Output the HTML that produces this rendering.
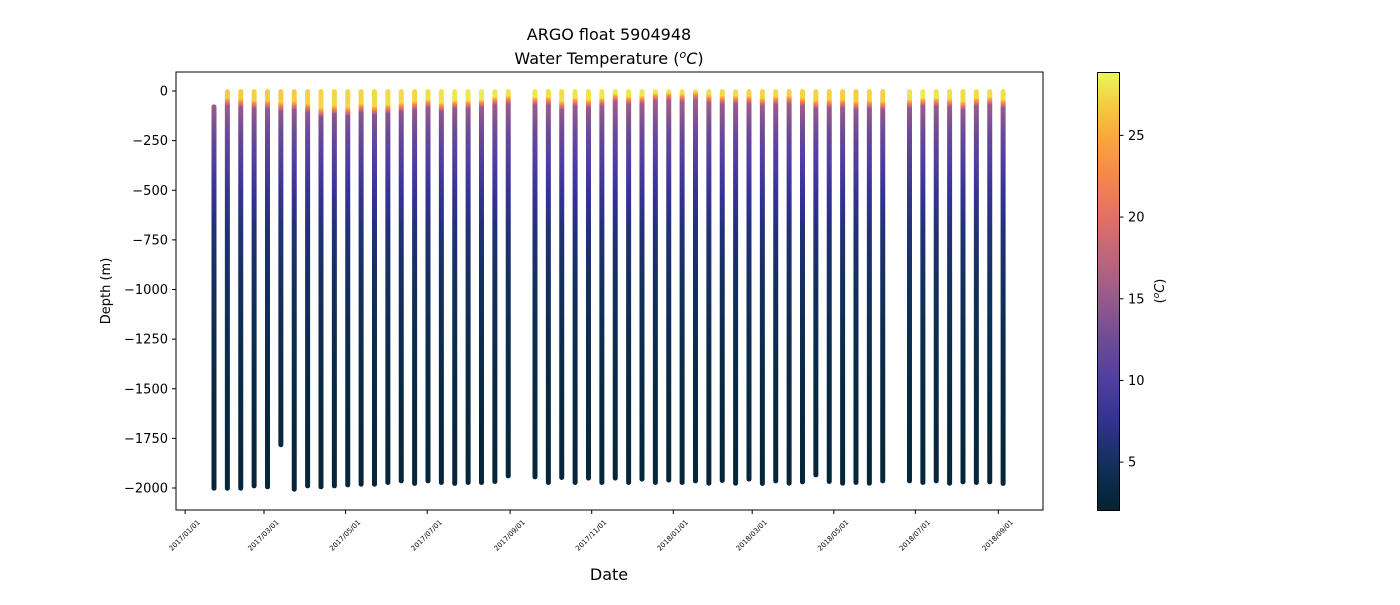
<!DOCTYPE html>
<html><head><meta charset="utf-8">
<style>
body{margin:0;background:#fff;}
svg text{font-family:"DejaVu Sans","Liberation Sans",sans-serif;fill:#000;}
</style></head>
<body>
<svg id="chart" width="1400" height="600" viewBox="0 0 1400 600" xmlns="http://www.w3.org/2000/svg">
<defs id="defs"></defs>
<rect width="1400" height="600" fill="#fff"/>
<text x="609" y="40" font-size="16" text-anchor="middle">ARGO float 5904948</text>
<text x="609" y="64" font-size="16" text-anchor="middle">Water Temperature (<tspan font-style="italic" font-size="11" dy="-6">o</tspan><tspan font-style="italic" dy="6">C</tspan>)</text>
<g id="plot"></g>
<g id="yaxis"></g>
<g id="xaxis"></g>
<rect x="176" y="72" width="867" height="438" fill="none" stroke="#000" stroke-width="1"/>
<text transform="translate(110,291) rotate(-90)" font-size="13" text-anchor="middle">Depth (m)</text>
<text x="609" y="580" font-size="16" text-anchor="middle">Date</text>
<g id="cbar"></g>
<text transform="translate(1164,291) rotate(-90)" font-size="13" text-anchor="middle">(<tspan font-style="italic" font-size="9" dy="-5">o</tspan><tspan font-style="italic" dy="5">C</tspan>)</text>
</svg>
<script>
// ---- data ----
const profileDays = [21.6,31.6,41.6,51.6,61.6,71.6,81.6,91.6,101.6,111.6,121.6,131.6,141.6,151.6,161.6,171.6,181.6,191.6,201.6,211.6,221.6,231.6,241.6,
 261.6,271.6,281.6,291.6,301.6,311.6,321.6,331.6,341.6,351.6,361.6,371.6,381.6,391.6,401.6,411.6,421.6,431.6,441.6,451.6,461.6,471.6,481.6,491.6,501.6,511.6,521.6,
 541.6,551.6,561.6,571.6,581.6,591.6,601.6,611.6];
const bottomDepth = [-2001,-2001,-2001,-1989,-1994,-1782,-2006,-1989,-1994,-1989,-1984,-1981,-1981,-1972,-1964,-1977,-1964,-1972,-1977,-1972,-1972,-1967,-1939,
 -1944,-1972,-1947,-1972,-1950,-1972,-1950,-1972,-1955,-1972,-1960,-1972,-1964,-1976,-1962,-1976,-1955,-1977,-1964,-1976,-1969,-1934,-1967,-1976,-1972,-1976,-1964,
 -1964,-1972,-1964,-1976,-1969,-1972,-1969,-1977];
const topDepth = [-80,-3,-3,-3,-3,-3,-3,-3,-3,-3,-3,-3,-3,-3,-3,-3,-3,-3,-3,-3,-3,-3,-3,
 -3,-3,-3,-3,-3,-3,-3,-3,-3,-3,-3,-3,-3,-3,-3,-3,-3,-3,-3,-3,-3,-3,-3,-3,-3,-3,-3,
 -3,-3,-3,-3,-3,-3,-3,-3];
const mixedLayerDepth = [0,35,40,47,48,57,52,64,86,74,82,64,77,69,60,52,43,60,47,47,43,30,24,
 30,30,52,35,43,35,14,27,24,10,7,14,4,19,24,24,24,35,27,24,35,47,43,43,52,47,52,
 43,35,35,40,52,35,30,43];
const surfaceTemp = [27.0,27.0,27.0,27.2,27.0,27.0,27.0,27.2,27.4,27.4,27.4,27.3,27.6,27.6,27.6,27.5,27.8,28.0,28.2,28.2,28.4,28.2,28.0,
 28.2,27.8,27.8,28.0,28.0,28.2,28.2,28.0,28.2,28.2,28.0,28.0,28.0,27.8,27.6,27.6,27.4,27.4,27.6,27.2,27.4,27.2,27.2,27.0,27.0,27.4,27.2,
 28.0,28.4,28.0,27.8,27.6,27.6,27.8,27.8];
const deepProfileDepth = [40,120,230,350,500,700,1000,1500,2000];
const deepProfileTemp = [16,14.3,12,10,8,6.2,4.8,3.3,2.5];
const yTicks = [0,-250,-500,-750,-1000,-1250,-1500,-1750,-2000];
const xTickDays = [0,59,120,181,243,304,365,424,485,546,608];
const xTickLabels = ["2017/01/01","2017/03/01","2017/05/01","2017/07/01","2017/09/01","2017/11/01","2018/01/01","2018/03/01","2018/05/01","2018/07/01","2018/09/01"];
const cbarTicks = [5,10,15,20,25];

// ---- scales ----
const NS="http://www.w3.org/2000/svg";
const X0=185.1, PXD=1.3375;
const xs = d => X0 + d*PXD;
const ys = v => 91 - v*0.1985;
const TMIN=2.04, TMAX=28.88;
const ct = t => 510.5 - (t-TMIN)/(TMAX-TMIN)*438.5;
const cmapT=[2.04,3.5,5,7.5,10,12.5,15,17.5,20,22.5,25,27,28.88];
const cmapC=[[4,35,51],[9,42,70],[20,48,95],[50,50,145],[80,62,160],[110,75,150],[150,90,140],[190,100,125],[225,112,100],[245,135,75],[250,168,60],[245,205,65],[232,248,90]];
function col(t){
  if(t<=cmapT[0]) return rgb(cmapC[0]);
  for(let i=1;i<cmapT.length;i++){ if(t<=cmapT[i]){const f=(t-cmapT[i-1])/(cmapT[i]-cmapT[i-1]);const a=cmapC[i-1],b=cmapC[i];return rgb([a[0]+(b[0]-a[0])*f,a[1]+(b[1]-a[1])*f,a[2]+(b[2]-a[2])*f]);} }
  return rgb(cmapC[cmapC.length-1]);
}
function rgb(c){return `rgb(${Math.round(c[0])},${Math.round(c[1])},${Math.round(c[2])})`;}
function tempAt(z,i){ // z positive depth
  const m=mixedLayerDepth[i];
  if(z<=m) return surfaceTemp[i];
  const zz=z-m;
  if(zz<deepProfileDepth[0]) return surfaceTemp[i]+(deepProfileTemp[0]-surfaceTemp[i])*zz/deepProfileDepth[0];
  const zd=Math.max(z,deepProfileDepth[0]+m*0);
  for(let k=1;k<deepProfileDepth.length;k++){
    if(zd<=deepProfileDepth[k]||k===deepProfileDepth.length-1){
      const f=Math.min(1,Math.max(0,(zd-deepProfileDepth[k-1])/(deepProfileDepth[k]-deepProfileDepth[k-1])));
      return deepProfileTemp[k-1]+(deepProfileTemp[k]-deepProfileTemp[k-1])*f;
    }
  }
  return deepProfileTemp[deepProfileTemp.length-1];
}
const defs=document.getElementById('defs');
const plot=document.getElementById('plot');
profileDays.forEach((d,i)=>{
  const x=xs(d), y1=ys(topDepth[i]), y2=ys(bottomDepth[i]);
  const g=document.createElementNS(NS,'linearGradient');
  g.setAttribute('id','g'+i);g.setAttribute('gradientUnits','userSpaceOnUse');
  g.setAttribute('x1',x);g.setAttribute('x2',x);g.setAttribute('y1',y1);g.setAttribute('y2',y2);
  const z0=-topDepth[i], z1=-bottomDepth[i];
  const samples=[];
  for(let z=z0;z<z0+200;z+=4) samples.push(z);
  for(let z=z0+200;z<z1;z+=50) samples.push(z);
  samples.push(z1);
  samples.forEach(z=>{const s=document.createElementNS(NS,'stop');s.setAttribute('offset',((z-z0)/(z1-z0)).toFixed(4));s.setAttribute('stop-color',col(tempAt(z,i)));g.appendChild(s);});
  defs.appendChild(g);
  const l=document.createElementNS(NS,'line');
  
  
  l.setAttribute('x1',x);l.setAttribute('x2',x);l.setAttribute('y1',y1);l.setAttribute('y2',y2);
  l.setAttribute('stroke','url(#g'+i+')');l.setAttribute('stroke-width','5');l.setAttribute('stroke-linecap','round');
  plot.appendChild(l);
});
const ya=document.getElementById('yaxis');
yTicks.forEach(v=>{
  const y=ys(v);
  const t=document.createElementNS(NS,'line');
  
  
  t.setAttribute('x1',172);t.setAttribute('x2',176);t.setAttribute('y1',y);t.setAttribute('y2',y);t.setAttribute('stroke','#000');
  ya.appendChild(t);
  const tx=document.createElementNS(NS,'text');
  
  
  tx.setAttribute('x',168);tx.setAttribute('y',y+4.5);tx.setAttribute('font-size','13');tx.setAttribute('text-anchor','end');
  tx.textContent=(v<0?'\u2212'+(-v):String(v));
  ya.appendChild(tx);
});
const xa=document.getElementById('xaxis');
xTickDays.forEach((d,i)=>{
  const x=xs(d);
  const t=document.createElementNS(NS,'line');
  
  
  t.setAttribute('x1',x);t.setAttribute('x2',x);t.setAttribute('y1',510);t.setAttribute('y2',514);t.setAttribute('stroke','#000');
  xa.appendChild(t);
  const tx=document.createElementNS(NS,'text');
  
  
  tx.setAttribute('transform',`translate(${x+1},${537}) rotate(-45)`);tx.setAttribute('font-size','7');tx.setAttribute('text-anchor','middle');
  tx.textContent=xTickLabels[i];
  xa.appendChild(tx);
});
// colorbar
const cb=document.getElementById('cbar');
const cg=document.createElementNS(NS,'linearGradient');
cg.setAttribute('id','cbg');cg.setAttribute('x1','0');cg.setAttribute('x2','0');cg.setAttribute('y1','1');cg.setAttribute('y2','0');
cmapT.forEach((t,i)=>{const s=document.createElementNS(NS,'stop');s.setAttribute('offset',((t-TMIN)/(TMAX-TMIN)).toFixed(4));s.setAttribute('stop-color',rgb(cmapC[i]));cg.appendChild(s);});
defs.appendChild(cg);
const cr=document.createElementNS(NS,'rect');


cr.setAttribute('x',1097.5);cr.setAttribute('y',72.5);cr.setAttribute('width',22);cr.setAttribute('height',438);cr.setAttribute('fill','url(#cbg)');cr.setAttribute('stroke','#000');
cb.appendChild(cr);
cbarTicks.forEach(v=>{
  const y=ct(v);
  const t=document.createElementNS(NS,'line');
  
  
  t.setAttribute('x1',1119.5);t.setAttribute('x2',1123.5);t.setAttribute('y1',y);t.setAttribute('y2',y);t.setAttribute('stroke','#000');
  cb.appendChild(t);
  const tx=document.createElementNS(NS,'text');
  
  
  tx.setAttribute('x',1128);tx.setAttribute('y',y+4.5);tx.setAttribute('font-size','13');
  tx.textContent=String(v);
  cb.appendChild(tx);
});
</script>
</body></html>
